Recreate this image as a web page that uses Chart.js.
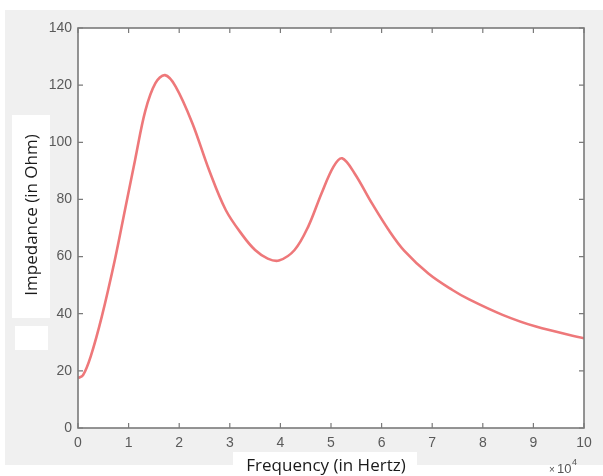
<!DOCTYPE html>
<html>
<head>
<meta charset="utf-8">
<script src="https://cdn.jsdelivr.net/npm/chart.js@4.4.1/dist/chart.umd.min.js"></script>
<style>
    html, body { margin: 0; padding: 0; background: #fff; }
    #wrap { width: 603px; height: 476px; }
</style>
</head>
<body>
<div id="wrap"><canvas id="chart" width="603" height="476"></canvas></div>
<script>
// Frequency in units of 10^4 Hz, impedance in Ohm
const frequency = [0, 0.1, 0.25, 0.47, 0.73, 0.93, 1.13, 1.33, 1.53, 1.72, 1.93, 2.26, 2.59, 2.92, 3.25, 3.5, 3.75, 3.97, 4.28, 4.55, 4.81, 5.05, 5.22, 5.47, 5.81, 6.14, 6.45, 6.93, 7.4, 7.73, 8.39, 9.05, 10];
const impedance = [17.5, 18.5, 25, 39, 59, 76.5, 94, 111, 120.7, 123.5, 119.5, 106.7, 90.3, 76.3, 67.5, 62.3, 59.3, 58.6, 62.3, 70.5, 82, 91.5, 94.4, 89, 78.6, 69.3, 62, 54, 48.3, 45, 39.6, 35.5, 31.4];
const xTicks = [0, 1, 2, 3, 4, 5, 6, 7, 8, 9, 10];
const yTicks = [0, 20, 40, 60, 80, 100, 120, 140];

const axisColor = '#7a7a7a';

// background, white label boxes, frame and inward ticks (MATLAB look)
const matlabLook = {
    id: 'matlabLook',
    beforeDraw(chart) {
        const ctx = chart.ctx;
        const a = chart.chartArea;
        ctx.save();
        ctx.fillStyle = '#ffffff';
        ctx.fillRect(0, 0, chart.width, chart.height);
        ctx.fillStyle = '#f0f0f0';
        ctx.fillRect(5, 10, 598, 455);
        ctx.fillStyle = '#ffffff';
        ctx.fillRect(a.left, a.top, a.right - a.left, a.bottom - a.top);
        // boxes behind the axis titles
        ctx.fillRect(12, 115, 38, 203);
        ctx.fillRect(15, 326, 33, 24);
        ctx.fillRect(233, 452, 184, 24);
        ctx.restore();
    },
    afterDraw(chart) {
        const ctx = chart.ctx;
        const a = chart.chartArea;
        const xs = chart.scales.x;
        const ys = chart.scales.y;
        ctx.save();
        ctx.strokeStyle = axisColor;
        ctx.lineWidth = 1.6;
        ctx.strokeRect(a.left, a.top, a.right - a.left, a.bottom - a.top);
        ctx.lineWidth = 1.2;
        ctx.beginPath();
        xTicks.forEach(v => {
            const px = xs.getPixelForValue(v);
            ctx.moveTo(px, a.bottom); ctx.lineTo(px, a.bottom - 5);
            ctx.moveTo(px, a.top); ctx.lineTo(px, a.top + 5);
        });
        yTicks.forEach(v => {
            const py = ys.getPixelForValue(v);
            ctx.moveTo(a.left, py); ctx.lineTo(a.left + 5, py);
            ctx.moveTo(a.right, py); ctx.lineTo(a.right - 5, py);
        });
        ctx.stroke();

        // axis titles
        ctx.fillStyle = '#1a1a1a';
        ctx.font = '17px "Open Sans", "Noto Sans", sans-serif';
        ctx.textAlign = 'center';
        ctx.textBaseline = 'middle';
        ctx.fillText('Frequency (in Hertz)', 326, 466);
        ctx.translate(32, 215);
        ctx.rotate(-Math.PI / 2);
        ctx.fillText('Impedance (in Ohm)', 0, 0);
        ctx.setTransform(1, 0, 0, 1, 0, 0);

        // exponent label
        ctx.fillStyle = '#555';
        ctx.textAlign = 'left';
        ctx.font = '10px "Liberation Sans", Arial, sans-serif';
        ctx.fillText('\u00d7', 549, 470);
        ctx.font = '13px "Liberation Sans", Arial, sans-serif';
        ctx.fillText('10', 557, 469);
        ctx.font = '9px "Liberation Sans", Arial, sans-serif';
        ctx.fillText('4', 572, 463);
        ctx.restore();
    }
};

const ctx = document.getElementById('chart').getContext('2d');
const chart = new Chart(ctx, {
    type: 'line',
    data: {
        datasets: [{
            data: frequency.map((f, i) => ({ x: f, y: impedance[i] })),
            borderColor: 'rgb(238, 120, 122)',
            borderWidth: 2.6,
            pointRadius: 0,
            fill: false,
            tension: 0.35
        }]
    },
    options: {
        responsive: false,
        animation: false,
        layout: { padding: { left: 0, top: 28, right: 19, bottom: 0 } },
        plugins: {
            legend: { display: false },
            tooltip: { enabled: false }
        },
        scales: {
            x: {
                type: 'linear',
                min: 0,
                max: 10,
                afterFit: s => { s.height = 48; },
                afterBuildTicks: s => { s.ticks = xTicks.map(v => ({ value: v })); },
                grid: { display: false, drawTicks: false },
                border: { display: false },
                ticks: { padding: 7, color: '#5a5a5a', font: { family: '"Liberation Sans", Arial, sans-serif', size: 14 }, maxRotation: 0 }
            },
            y: {
                min: 0,
                max: 140,
                afterFit: s => { s.width = 78; },
                afterBuildTicks: s => { s.ticks = yTicks.map(v => ({ value: v })); },
                grid: { display: false, drawTicks: false },
                border: { display: false },
                ticks: { padding: 6, color: '#5a5a5a', font: { family: '"Liberation Sans", Arial, sans-serif', size: 14 } }
            }
        }
    },
    plugins: [matlabLook]
});
</script>
</body>
</html>
